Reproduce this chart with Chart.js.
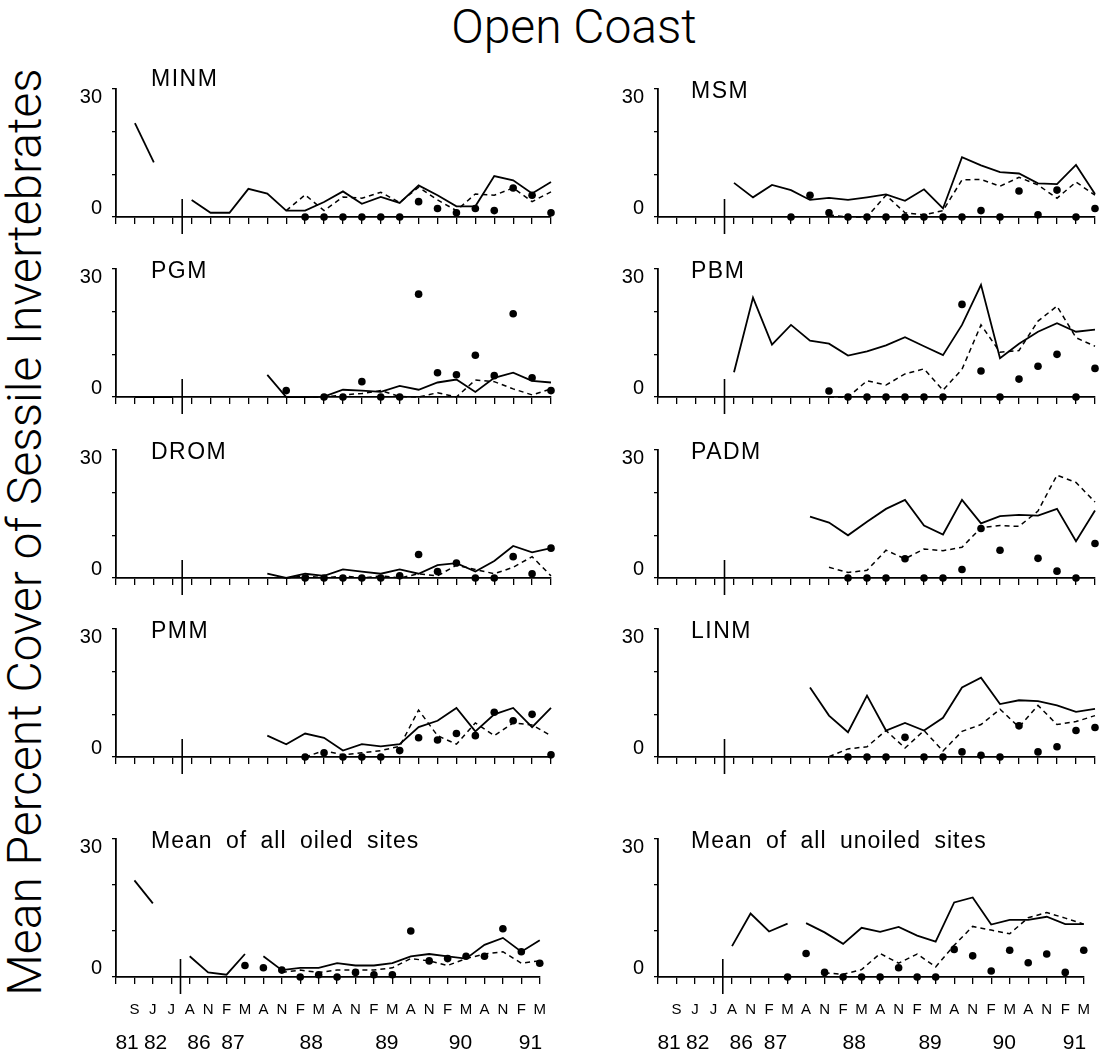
<!DOCTYPE html>
<html><head><meta charset="utf-8">
<script src="https://cdn.jsdelivr.net/npm/chart.js@4.4.0/dist/chart.umd.min.js"></script>
<style>
html,body{margin:0;padding:0;background:#fff;overflow:hidden;width:1107px;height:1055px;}
#wrap{position:relative;width:1107px;height:1055px;background:#fff;}
canvas{position:absolute;}
.lbl{position:absolute;font-family:"Liberation Sans",Arial,sans-serif;color:#000;white-space:nowrap;line-height:1;}
#title{font-family:Roboto,"Liberation Sans",sans-serif;font-weight:300;font-size:48px;left:574px;top:3px;transform:translateX(-50%);}
#ytitle{font-family:Roboto,"Liberation Sans",sans-serif;font-weight:300;font-size:48px;left:25px;top:532px;transform:translate(-50%,-50%) rotate(-90deg);}
.plbl{font-size:23px;letter-spacing:1.5px;}
.mlbl{font-size:23px;letter-spacing:1px;word-spacing:6px;}
</style></head><body><div id="wrap">
<div id="title" class="lbl">Open Coast</div>
<div id="ytitle" class="lbl">Mean Percent Cover of Sessile Invertebrates</div>
</div>
<script>
// ---- axis text ----
const monthLabels = ['', 'S','J','J','A','N','F','M','A','N','F','M','A','N','F','M','A','N','F','M','A','N','F','M'];
const yearLabels = ['81','82','86','87','88','89','90','91'];
const yearPositions = [0.6, 2.15, 4.5, 6.35, 10.6, 14.7, 18.7, 22.5];
const breakPosition = 3.5;
const yTicks = [0, 10, 20, 30];

// ---- data (index 0 = axis origin, 1 = S81 ... 23 = M91) ----
const minmSolid  = [null,22.0,12.8,null,4.0,1.0,1.0,6.6,5.5,1.5,1.5,3.5,6.0,3.1,4.7,3.3,7.4,5.1,2.5,2.5,9.6,8.6,5.5,8.2];
const minmDashed = [null,null,null,null,null,null,null,null,null,1.5,5.2,1.5,4.7,4.4,5.8,3.4,7.0,4.0,1.5,5.4,5.1,6.8,3.6,5.9];
const minmDots   = [null,null,null,null,null,null,null,null,null,null,0,0,0,0,0,0,3.6,2.0,1.0,2.0,1.5,6.8,5.1,1.0];

const pgmSolid  = [null,0,0,0,null,null,null,null,5.2,0,0,0.1,1.7,1.5,1.2,2.6,1.7,3.4,4.1,1.2,4.5,5.7,3.8,3.4];
const pgmDashed = [null,null,null,null,null,null,null,null,null,0,0,0,0.5,0.8,1.5,0.1,0,1.0,0,4.0,3.6,1.9,0.5,1.9];
const pgmDots   = [null,null,null,null,null,null,null,null,null,1.5,null,0,0,3.6,0,0,24.1,5.7,5.2,9.8,5.0,19.5,4.5,1.5];

const dromSolid  = [null,null,null,null,null,null,null,null,1.0,0,1.0,0.5,2.0,1.5,1.0,2.0,1.0,3.0,3.5,1.5,4.0,7.5,6.0,7.0];
const dromDashed = [null,null,null,null,null,null,null,null,null,0,0.5,0,0.5,0,0.5,0,1.0,0.5,3.0,2.0,1.0,2.5,5.0,0.5];
const dromDots   = [null,null,null,null,null,null,null,null,null,null,0,0,0,0,0,0.5,5.5,1.5,3.5,0,0,5.0,1.0,7.0];

const pmmSolid  = [null,null,null,null,null,null,null,null,5.0,3.0,5.5,4.5,1.5,3.0,2.5,3.0,7.0,8.5,11.5,6.0,10.0,11.5,7.0,11.5];
const pmmDashed = [null,null,null,null,null,null,null,null,null,null,0,1.5,0.5,1.0,1.5,2.5,11.0,5.0,3.0,8.0,5.0,8.0,7.5,5.0];
const pmmDots   = [null,null,null,null,null,null,null,null,null,null,0,1.0,0,0,0,1.5,4.5,4.0,5.5,5.0,10.5,8.5,10.0,0.5];

const oiledSolid  = [null,21.0,16.0,null,4.5,1.0,0.5,5.0,4.5,1.5,2.0,2.0,3.0,2.5,2.5,3.0,4.5,5.0,4.5,4.0,7.0,8.5,5.5,8.0];
const oiledDashed = [null,null,null,null,null,null,null,null,null,1.0,1.5,1.0,1.5,1.5,1.5,2.0,4.0,3.5,2.5,4.0,5.0,5.5,3.0,3.5];
const oiledDots   = [null,null,null,null,null,null,null,2.5,2.0,1.5,0,0.5,0,1.0,0.5,0.5,10.0,3.5,4.0,4.5,4.5,10.5,5.5,3.0];

const msmSolid  = [null,null,null,null,8.0,4.6,7.5,6.3,4.0,4.5,4.0,4.6,5.3,3.8,6.5,2.0,14.0,12.1,10.5,10.2,7.9,7.7,12.2,5.4];
const msmDashed = [null,null,null,null,null,null,null,null,null,0.5,0,0,5.1,1.0,0.5,1.5,8.7,8.8,7.2,9.3,7.5,4.4,8.2,5.1];
const msmDots   = [null,null,null,null,null,null,null,0,5.1,1.0,0,0,0,0,0,0,0,1.5,0,6.1,0.5,6.3,0,2.0];

const pbmSolid  = [null,null,null,null,5.8,23.3,12.3,16.9,13.2,12.5,9.7,10.7,12.1,14.0,11.9,9.8,16.9,26.3,9.1,12.5,15.3,17.3,15.3,15.8];
const pbmDashed = [null,null,null,null,null,null,null,null,null,0,0,3.8,2.8,5.4,6.6,1.6,6.5,16.9,10.5,10.9,17.8,21.3,13.9,11.9];
const pbmDots   = [null,null,null,null,null,null,null,null,null,1.4,0,0,0,0,0,0,21.7,6.1,0,4.2,7.2,10.0,0,6.7];

const padmSolid  = [null,null,null,null,null,null,null,null,14.4,13.0,10.0,13.2,16.2,18.3,12.3,10.2,18.3,12.8,14.5,14.8,14.6,16.2,8.6,15.8];
const padmDashed = [null,null,null,null,null,null,null,null,null,2.5,1.3,1.8,6.5,4.5,6.8,6.4,7.2,11.8,12.3,12.1,15.7,24.1,22.4,17.8];
const padmDots   = [null,null,null,null,null,null,null,null,null,null,0,0,0,4.5,0,0,2.0,11.6,6.5,null,4.6,1.6,0,8.1];

const linmSolid  = [null,null,null,null,null,null,null,null,16.3,9.7,5.8,14.4,6.2,8.0,6.2,9.2,16.3,18.6,12.4,13.3,13.1,12.1,10.6,11.3];
const linmDashed = [null,null,null,null,null,null,null,null,null,0.1,1.9,2.4,6.2,2.1,6.2,1.4,6.0,7.6,11.2,7.0,12.1,7.6,8.3,9.7];
const linmDots   = [null,null,null,null,null,null,null,null,null,null,0,0,0,4.6,0,0,1.2,0.4,0,7.3,1.2,2.4,6.2,6.9];

const unoiledSolid  = [null,null,null,null,6.7,13.8,9.9,11.6,11.7,9.7,7.2,10.7,9.8,10.9,9.0,7.7,16.2,17.3,11.4,12.4,12.4,13.1,11.5,11.5];
const unoiledDashed = [null,null,null,null,null,null,null,null,null,0.9,0.6,1.6,5.1,3.0,5.0,2.2,6.9,11.0,10.2,9.4,12.9,14.0,12.8,11.5];
const unoiledDots   = [null,null,null,null,null,null,null,0,5.1,1.0,0,0,0,2.0,0,0,6.0,4.6,1.3,5.8,3.1,5.0,1.0,5.8];

const panelNames = ['MINM','PGM','DROM','PMM','Mean of all oiled sites','MSM','PBM','PADM','LINM','Mean of all unoiled sites'];
const solidGapAfter = {'Mean of all oiled sites':[7], 'Mean of all unoiled sites':[7]};

const panels = [
  {name:panelNames[0], solid:minmSolid, dashed:minmDashed, dots:minmDots},
  {name:panelNames[1], solid:pgmSolid, dashed:pgmDashed, dots:pgmDots},
  {name:panelNames[2], solid:dromSolid, dashed:dromDashed, dots:dromDots},
  {name:panelNames[3], solid:pmmSolid, dashed:pmmDashed, dots:pmmDots},
  {name:panelNames[4], solid:oiledSolid, dashed:oiledDashed, dots:oiledDots},
  {name:panelNames[5], solid:msmSolid, dashed:msmDashed, dots:msmDots},
  {name:panelNames[6], solid:pbmSolid, dashed:pbmDashed, dots:pbmDots},
  {name:panelNames[7], solid:padmSolid, dashed:padmDashed, dots:padmDots},
  {name:panelNames[8], solid:linmSolid, dashed:linmDashed, dots:linmDots},
  {name:panelNames[9], solid:unoiledSolid, dashed:unoiledDashed, dots:unoiledDots}
];

// ---- layout ----
const cols = [{axisX:116, endX:551, labelX:151}, {axisX:658, endX:1095, labelX:691}];
const rows = [{top:82, zero:224}, {top:262, zero:404}, {top:443, zero:585}, {top:622, zero:764}, {top:832, zero:977}];
const labelTopAdj = {'MINM':-12};
const Y_AXIS_W = 76, PAD_TOP = 20, PAD_RIGHT = 12, X_H = 20, X_H_BOTTOM = 45, X2_H = 34;
const FONT = '"Liberation Sans", Arial, sans-serif';

const breakPlugin = {
  id: 'axisBreak',
  afterDraw(chart) {
    const xs = chart.scales.x, ys = chart.scales.y;
    const px = xs.getPixelForValue(breakPosition);
    const y0 = ys.getPixelForValue(0);
    const c = chart.ctx;
    c.save();
    c.strokeStyle = '#000'; c.lineWidth = 1.6;
    c.beginPath(); c.moveTo(px, y0 - 18); c.lineTo(px, y0 + 17); c.stroke();
    c.restore();
  }
};

const wrap = document.getElementById('wrap');
panels.forEach((p, k) => {
  const col = cols[Math.floor(k / 5)], row = rows[k % 5];
  const isBottom = (k % 5) === 4;
  const cv = document.createElement('canvas');
  const left = col.axisX - Y_AXIS_W;
  const width = col.endX - left + PAD_RIGHT;
  const height = PAD_TOP + (row.zero - row.top) + (isBottom ? X_H_BOTTOM + X2_H : X_H);
  cv.width = width; cv.height = height;
  cv.style.left = left + 'px'; cv.style.top = (row.top - PAD_TOP) + 'px';
  cv.style.width = width + 'px'; cv.style.height = height + 'px';
  wrap.appendChild(cv);

  const lbl = document.createElement('div');
  lbl.className = 'lbl ' + (isBottom ? 'mlbl' : 'plbl');
  lbl.textContent = p.name;
  lbl.style.left = col.labelX + 'px';
  lbl.style.top = (row.top - 3 + (labelTopAdj[p.name] || 0)) + 'px';
  wrap.appendChild(lbl);

  const gaps = solidGapAfter[p.name] || [];
  const scales = {
    x: {
      type:'category', position:'bottom', offset:false,
      grid:{display:true, drawOnChartArea:false, drawTicks:true, tickLength:7, color:'#000', lineWidth:1.3},
      border:{display:true, color:'#000', width:1.8},
      ticks:{display:isBottom, autoSkip:false, maxRotation:0, minRotation:0, padding:17, color:'#000', font:{family:FONT, size:15}},
      afterFit(s){ s.height = isBottom ? X_H_BOTTOM : X_H; }
    },
    y: {
      type:'linear', position:'left', min:0, max:30,
      afterBuildTicks(s){ s.ticks = yTicks.map(v => ({value:v})); },
      afterFit(s){ s.width = Y_AXIS_W; },
      grid:{display:true, drawOnChartArea:false, drawTicks:true, tickLength:4, color:'#000', lineWidth:1.3},
      border:{display:true, color:'#000', width:1.8},
      ticks:{color:'#000', padding:10, font:{family:FONT, size:20, lineHeight:0.85},
        callback(v){ return v === 30 ? ['', '30'] : (v === 0 ? ['0', ''] : ''); }}
    }
  };
  if (isBottom) {
    scales.x2 = {
      type:'linear', position:'bottom', min:0, max:23,
      grid:{display:false, drawTicks:false}, border:{display:false},
      afterBuildTicks(s){ s.ticks = yearPositions.map(v => ({value:v})); },
      afterFit(s){ s.height = X2_H; },
      ticks:{autoSkip:false, maxRotation:0, minRotation:0, padding:9, color:'#000', font:{family:FONT, size:21},
        callback(v, i){ return yearLabels[i]; }}
    };
  }
  new Chart(cv, {
    type:'line',
    data:{
      labels: monthLabels,
      datasets:[
        {label:'solid', data:p.solid, borderColor:'#000', borderWidth:1.8, pointRadius:0, tension:0, spanGaps:false, clip:false,
         segment:{borderColor: ctx => gaps.includes(ctx.p0DataIndex) ? 'rgba(0,0,0,0)' : '#000'}},
        {label:'dashed', data:p.dashed, borderColor:'#000', borderWidth:1.5, borderDash:[5,4], pointRadius:0, tension:0, spanGaps:false, clip:false},
        {label:'dots', data:p.dots, showLine:false, pointRadius:3.8, pointBackgroundColor:'#000', pointBorderColor:'#000', pointBorderWidth:0, clip:false}
      ]
    },
    options:{
      responsive:false, animation:false, devicePixelRatio:1,
      layout:{padding:{left:0, right:PAD_RIGHT, top:PAD_TOP, bottom:0}},
      plugins:{legend:{display:false}, tooltip:{enabled:false}, title:{display:false}},
      scales
    },
    plugins:[breakPlugin]
  });
});
</script>
</body></html>
